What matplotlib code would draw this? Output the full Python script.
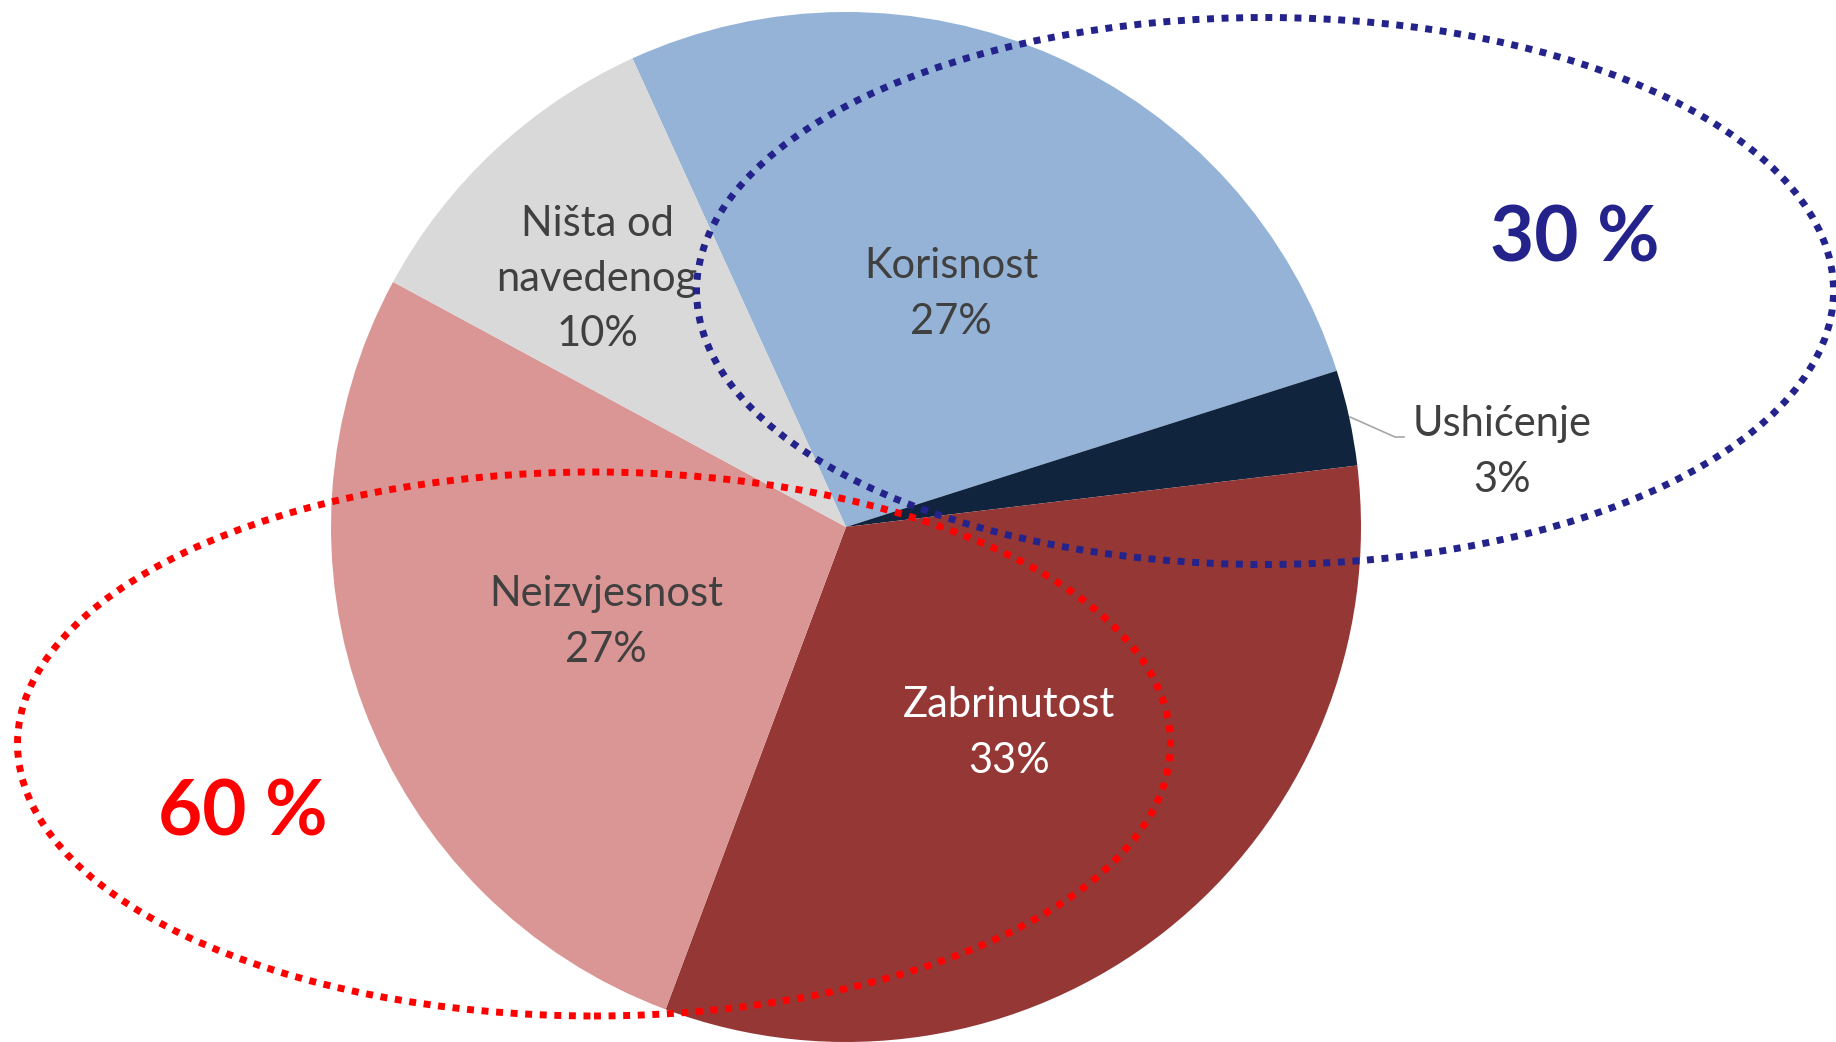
import matplotlib
matplotlib.use("Agg")
import matplotlib.pyplot as plt
from matplotlib.patches import Ellipse

plt.rcParams['font.family'] = ['Lato', 'DejaVu Sans']

categories = ["Korisnost", "Ushićenje", "Zabrinutost", "Neizvjesnost", "Ništa od\nnavedenog"]
values = [26.9, 3.0, 32.6, 27.2, 10.3]
colors = ["#95B3D7", "#10243E", "#953735", "#D99694", "#D9D9D9"]
label_colors = ["#404040", "#404040", "#FFFFFF", "#404040", "#404040"]
group_labels = ["30 %", "60 %"]
group_colors = ["#23238B", "#FF0000"]

W, H = 1836, 1042
fig = plt.figure(figsize=(W / 100, H / 100), dpi=100)
ax = fig.add_axes([0, 0, 1, 1])

cx, cy, r = 846, H - 527, 515
ax.pie(values, colors=colors, startangle=114.5, counterclock=False,
       center=(cx, cy), radius=r, frame=True,
       wedgeprops=dict(linewidth=0))
ax.set_xlim(0, W)
ax.set_ylim(0, H)
ax.set_aspect('equal')
ax.axis('off')

# data labels
label_pos = [(951, 294), (1502, 452), (1009, 733), (606, 622), (597, 279)]
for cat, v, col, (x, y) in zip(categories, values, label_colors, label_pos):
    ax.text(x, H - y, f"{cat}\n{v:.0f}%", ha='center', va='center', fontsize=30,
            color=col, linespacing=1.55, zorder=5)

# leader line for small slice
ax.plot([1350, 1395, 1404], [H - 417, H - 437, H - 437], color="#A6A6A6", lw=1.2, zorder=4)

# dotted ellipses
ell_blue = Ellipse((1265, H - 291), 1137, 547, fill=False, edgecolor=group_colors[0],
                   lw=5, linestyle=(0, (1, 1.1)), zorder=6)
ell_red = Ellipse((594, H - 744), 1153, 544, fill=False, edgecolor=group_colors[1],
                  lw=5, linestyle=(0, (1, 1.1)), zorder=6)
for e in (ell_blue, ell_red):
    e.set_capstyle('butt')
    ax.add_patch(e)

ax.text(1575, H - 240, group_labels[0], ha='center', va='center', fontsize=55,
        fontweight='bold', color=group_colors[0], zorder=7)
ax.text(243, H - 814, group_labels[1], ha='center', va='center', fontsize=55,
        fontweight='bold', color=group_colors[1], zorder=7)

fig.savefig("out.png", dpi=100)
